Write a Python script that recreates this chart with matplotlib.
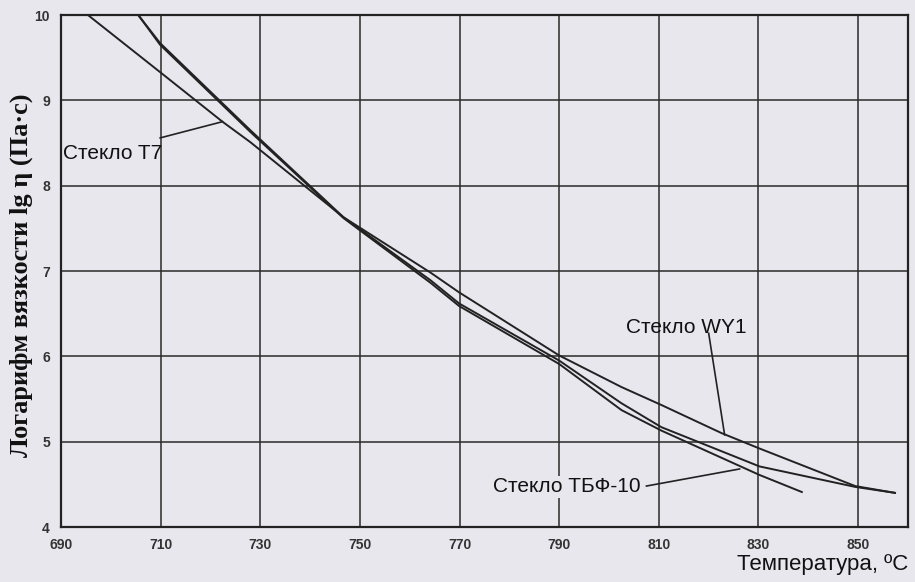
import matplotlib.pyplot as plt

# температура, °C и lg η для трёх стёкол
t_t7 = [695.4, 709.9, 722.4, 728.0, 746.7, 764.2, 769.9, 790.0, 802.5, 810.5, 830.2, 849.4, 857.4]
v_t7 = [10.0, 9.33, 8.75, 8.51, 7.63, 6.89, 6.62, 5.95, 5.45, 5.17, 4.71, 4.47, 4.40]

t_wy1 = [705.5, 709.9, 728.0, 746.7, 764.2, 769.9, 790.0, 802.5, 810.5, 822.6, 830.2, 849.4, 857.4]
v_wy1 = [10.0, 9.67, 8.65, 7.63, 6.98, 6.75, 6.01, 5.64, 5.43, 5.10, 4.92, 4.48, 4.40]

t_tbf = [705.5, 709.9, 728.0, 746.7, 764.2, 769.9, 790.0, 802.5, 810.5, 830.2, 838.7]
v_tbf = [10.0, 9.65, 8.63, 7.62, 6.86, 6.59, 5.91, 5.37, 5.13, 4.61, 4.41]

x_ticks = [690, 710, 730, 750, 770, 790, 810, 830, 850]
y_ticks = [4, 5, 6, 7, 8, 9, 10]

bg = '#e9e7ee'
fig = plt.figure(figsize=(9.15, 5.82), dpi=100, facecolor=bg)
ax = fig.add_axes([0.0667, 0.0945, 0.9256, 0.8797], facecolor=bg)

for t, v in [(t_t7, v_t7), (t_wy1, v_wy1), (t_tbf, v_tbf)]:
    ax.plot(t, v, color='#222222', lw=1.4, zorder=3)

ax.set_xlim(690, 860)
ax.set_ylim(4, 10)
ax.set_xticks(x_ticks)
ax.set_yticks(y_ticks)
ax.grid(True, color='#2a2a2a', lw=1.1)
for s in ax.spines.values():
    s.set_linewidth(1.6)
    s.set_color('#222222')
ax.tick_params(length=0, pad=8, labelsize=10)
for lab in ax.get_xticklabels() + ax.get_yticklabels():
    lab.set_fontweight('bold')
    lab.set_fontfamily('Liberation Sans')
    lab.set_color('#333333')

txt = dict(fontsize=15, family='Liberation Sans', color='#111111', zorder=4)
ax.text(690.4, 8.38, 'Стекло T7', va='center', ha='left', **txt)
ax.plot([709.9, 722.4], [8.56, 8.75], color='#222222', lw=1.2)
ax.text(803.5, 6.34, 'Стекло WY1', va='center', ha='left', **txt)
ax.plot([820.0, 823.2], [6.27, 5.08], color='#222222', lw=1.2)
ax.text(776.7, 4.47, 'Стекло ТБФ-10', va='center', ha='left',
        bbox=dict(fc=bg, ec='none', pad=1), **txt)
ax.plot([807.5, 826.2], [4.48, 4.68], color='#222222', lw=1.2)

fig.text(0.993, 0.030, 'Температура, ºC', ha='right', va='center',
         fontsize=16, family='Liberation Sans', color='#111111')
fig.text(0.023, 0.527, 'Логарифм вязкости lg η (Па·с)', rotation=90,
         ha='center', va='center', fontsize=19, fontweight='bold',
         family='Liberation Serif', color='#111111')

fig.savefig('out.png', dpi=100, facecolor=bg)
